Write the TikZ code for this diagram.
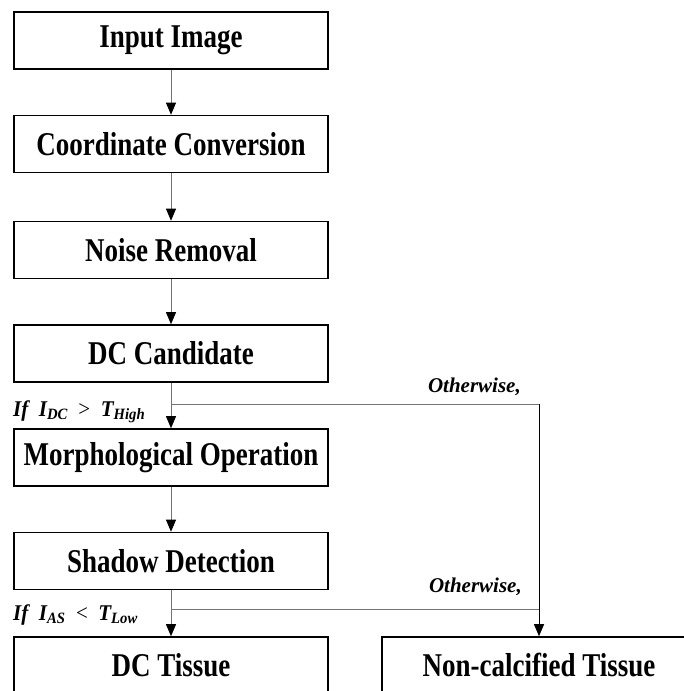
\documentclass[tikz,border=0pt]{standalone}
\usepackage{fontspec}
\setmainfont{Liberation Serif}
\usetikzlibrary{arrows.meta}

\newcommand{\tallbox}[1]{\scalebox{1}[1.23]{#1}}
\newcommand{\tallcond}[1]{\scalebox{1}[1.07]{#1}}

\begin{document}
\begin{tikzpicture}[x=1pt, y=-1pt, >={Triangle[length=12pt, width=10pt, color=black]},
    stepbox/.style={draw, line width=1.6pt, minimum width=314pt, minimum height=57pt,
        inner sep=0pt, font=\fontsize{27}{27}\selectfont\bfseries},
    link/.style={draw=black!55, line width=0.9pt},
    cond/.style={inner sep=0pt, font=\fontsize{21}{21}\selectfont\bfseries\itshape}]
    \useasboundingbox (0, 0) rectangle (684, 691);
    \clip (0, 0) rectangle (684, 691);
    \node [stepbox] (input) at (171, 40.5) {\tallbox{Input Image}};
    \node [stepbox] (coord) at (171, 144) {\tallbox{Coordinate Conversion}};
    \node [stepbox] (noise) at (171, 250) {\tallbox{Noise Removal}};
    \node [stepbox] (cand) at (171, 353.5) {\tallbox{DC Candidate}};
    \node [stepbox] (morph) at (171, 457.5) {\tallbox{Morphological Operation}};
    \node [stepbox] (shadow) at (171, 561) {\tallbox{Shadow Detection}};
    \node [stepbox] (dct) at (171, 665.5) {\tallbox{DC Tissue}};
    \node [stepbox] (nct) at (539, 665.5) {\tallbox{Non-calcified Tissue}};
    \coordinate (b1) at (171, 404);
    \coordinate (b1r) at (539, 404);
    \coordinate (b2) at (171, 609);
    \coordinate (b2r) at (539, 609);
    \node [cond, anchor=base west] (if1) at (13, 416)
        {\tallcond{If~~I\textsubscript{DC}~~\textmd{\upshape >}~~T\textsubscript{High}}};
    \node [cond, anchor=base west] (if2) at (13, 620)
        {\tallcond{If~~I\textsubscript{AS}~~\textmd{\upshape <}~~T\textsubscript{Low}}};
    \node [cond, anchor=base east] (else1) at (521, 392) {Otherwise,};
    \node [cond, anchor=base east] (else2) at (522, 592) {Otherwise,};
    \draw [link, ->] (input) -- (coord);
    \draw [link, ->] (coord) -- (noise);
    \draw [link, ->] (noise) -- (cand);
    \draw [link, ->] (cand) -- (morph);
    \draw [link, ->] (morph) -- (shadow);
    \draw [link, ->] (shadow) -- (dct);
    \draw [link] (b1) -- (b1r);
    \draw [link, draw=black, ->] (b1r) -- (nct);
    \draw [link] (b2) -- (b2r);
\end{tikzpicture}
\end{document}
